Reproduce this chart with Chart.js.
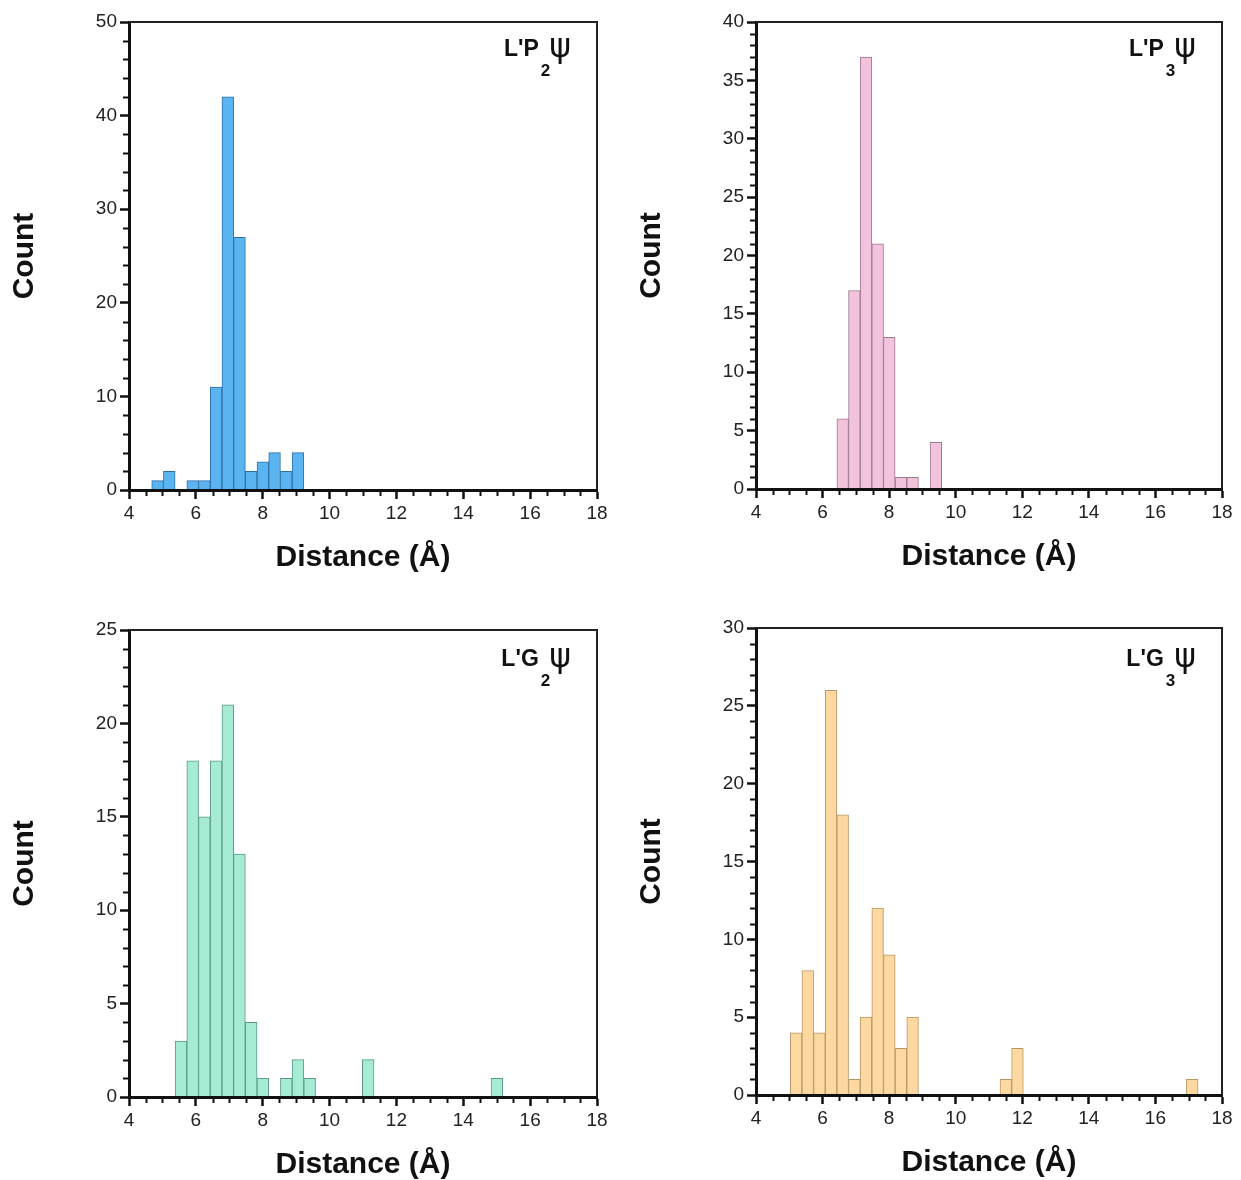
<!DOCTYPE html>
<html lang="en">
<head>
<meta charset="UTF-8">
<title>Distance histograms</title>
<script src="https://cdn.jsdelivr.net/npm/chart.js"></script>
<style>
  body { margin: 0; background: #fff; }
  .panel { position: absolute; }
</style>
</head>
<body>
<div class="panel" style="left:0;top:0"><canvas id="c1" width="620" height="600"></canvas></div>
<div class="panel" style="left:627px;top:0"><canvas id="c2" width="620" height="600"></canvas></div>
<div class="panel" style="left:0;top:608px"><canvas id="c3" width="620" height="600"></canvas></div>
<div class="panel" style="left:627px;top:606px"><canvas id="c4" width="620" height="600"></canvas></div>

<script>
// bin centres in Å (bins are 0.35 Å wide), only non-empty bins listed
const lp2Bins   = [4.855, 5.205, 5.905, 6.255, 6.605, 6.955, 7.305, 7.655, 8.005, 8.355, 8.705, 9.055];
const lp2Counts = [1, 2, 1, 1, 11, 42, 27, 2, 3, 4, 2, 4];

const lp3Bins   = [6.605, 6.955, 7.305, 7.655, 8.005, 8.355, 8.705, 9.405];
const lp3Counts = [6, 17, 37, 21, 13, 1, 1, 4];

const lg2Bins   = [5.555, 5.905, 6.255, 6.605, 6.955, 7.305, 7.655, 8.005, 8.705, 9.055, 9.405, 11.155, 15.005];
const lg2Counts = [3, 18, 15, 18, 21, 13, 4, 1, 1, 2, 1, 2, 1];

const lg3Bins   = [5.205, 5.555, 5.905, 6.255, 6.605, 6.955, 7.305, 7.655, 8.005, 8.355, 8.705, 11.505, 11.855, 17.105];
const lg3Counts = [4, 8, 4, 26, 18, 1, 5, 12, 9, 3, 5, 1, 3, 1];

// axis ranges
const xMin = 4, xMax = 18, xStep = 2, xMinor = 0.5;
const yMaxes  = [50, 40, 25, 30];
const ySteps  = [10, 5, 5, 5];
const yMinors = [2, 1, 1, 1];

const FONT = '"Liberation Sans", Arial, Helvetica, sans-serif';
const INK = '#111';

// short minor ticks, box frame and the panel label
const decor = {
    id: 'decor',
    afterDraw(chart, args, opts) {
        const ctx = chart.ctx;
        const xs = chart.scales.x, ys = chart.scales.y;
        const a = chart.chartArea;
        ctx.save();
        ctx.strokeStyle = INK;
        ctx.lineWidth = 2;
        ctx.beginPath();
        for (let v = xs.min; v <= xs.max + 1e-9; v += opts.xMinor) {
            const r = v / opts.xStep;
            if (Math.abs(r - Math.round(r)) < 1e-6) continue;
            const px = Math.round(xs.getPixelForValue(v)) + 0.5;
            ctx.moveTo(px, a.bottom);
            ctx.lineTo(px, a.bottom + 6);
        }
        for (let v = ys.min; v <= ys.max + 1e-9; v += opts.yMinor) {
            const r = v / opts.yStep;
            if (Math.abs(r - Math.round(r)) < 1e-6) continue;
            const py = Math.round(ys.getPixelForValue(v)) + 0.5;
            ctx.moveTo(a.left, py);
            ctx.lineTo(a.left - 6, py);
        }
        ctx.stroke();

        // top and right edges of the frame
        ctx.lineWidth = 2;
        ctx.strokeStyle = '#222';
        ctx.beginPath();
        ctx.moveTo(a.left, a.top);
        ctx.lineTo(a.right, a.top);
        ctx.lineTo(a.right, a.bottom);
        ctx.stroke();

        // label like L'P2ψ, right edge of ψ sits ~27px inside the frame
        const base = a.top + opts.labelDy;
        const mainFont = 'bold 23px ' + FONT;
        const subFont = 'bold 17px ' + FONT;
        const psiFont = '33px "DejaVu Sans", ' + FONT;
        ctx.font = mainFont; const wMain = ctx.measureText(opts.main).width;
        ctx.font = subFont;  const wSub = ctx.measureText(opts.sub).width;
        ctx.font = psiFont;  const wPsi = ctx.measureText('ψ').width;
        let x = a.right - 25 - (wMain + 2 + wSub + wPsi);
        ctx.fillStyle = INK;
        ctx.textAlign = 'left';
        ctx.textBaseline = 'alphabetic';
        ctx.font = mainFont;
        ctx.fillText(opts.main, x, base);
        x += wMain + 2;
        ctx.font = subFont;
        ctx.fillText(opts.sub, x, base + 20);
        x += wSub - 1;
        ctx.font = psiFont;
        ctx.fillText('ψ', x, base + 1);
        ctx.restore();
    }
};

function histogram(id, bins, counts, fill, edge, i, area, label) {
    const ctx = document.getElementById(id).getContext('2d');
    return new Chart(ctx, {
        type: 'bar',
        data: {
            datasets: [{
                data: bins.map((b, k) => ({ x: b, y: counts[k] })),
                backgroundColor: fill,
                borderColor: edge,
                borderWidth: 1,
                barPercentage: 1,
                categoryPercentage: 1
            }]
        },
        options: {
            responsive: false,
            animation: false,
            devicePixelRatio: 1,
            layout: { padding: { left: 0, top: 22, right: 620 - area.right, bottom: 600 - 86 - area.bottom } },
            plugins: {
                legend: { display: false },
                tooltip: { enabled: false },
                decor: { xMinor: xMinor, xStep: xStep, yMinor: yMinors[i], yStep: ySteps[i],
                         main: label[0], sub: label[1], labelDy: label[2] }
            },
            scales: {
                x: {
                    type: 'linear',
                    min: xMin, max: xMax,
                    offset: false,
                    afterFit: s => { s.height = 86; },
                    grid: { offset: false, drawOnChartArea: false, drawTicks: true, tickLength: 9, tickWidth: 2.5, tickColor: INK },
                    border: { display: true, width: 3, color: INK, z: 1 },
                    ticks: { stepSize: xStep, padding: 3, color: '#222', font: { family: FONT, size: 19 }, maxRotation: 0 },
                    title: { display: true, text: 'Distance (Å)', color: INK, padding: { top: 0, bottom: 0 },
                             font: { family: FONT, size: 30, weight: 'bold' } }
                },
                y: {
                    min: 0, max: yMaxes[i],
                    afterFit: s => { s.width = 129; },
                    grid: { drawOnChartArea: false, drawTicks: true, tickLength: 9, tickWidth: 2.5, tickColor: INK },
                    border: { display: true, width: 3, color: INK, z: 1 },
                    ticks: { stepSize: ySteps[i], padding: 3, color: '#222', font: { family: FONT, size: 19 } },
                    title: { display: true, text: 'Count', color: INK, padding: { top: 7, bottom: 0 },
                             font: { family: FONT, size: 30, weight: 'bold' } }
                }
            }
        },
        plugins: [decor]
    });
}

histogram('c1', lp2Bins, lp2Counts, '#5ab4f0', '#2f6fa8', 0, { right: 597, bottom: 490 }, ["L'P", '2', 34]);
histogram('c2', lp3Bins, lp3Counts, '#f3c3de', '#9a7b8c', 1, { right: 595, bottom: 489 }, ["L'P", '3', 34]);
histogram('c3', lg2Bins, lg2Counts, '#a6ebd3', '#5a9a84', 2, { right: 597, bottom: 489 }, ["L'G", '2', 36]);
histogram('c4', lg3Bins, lg3Counts, '#fdd9a1', '#b59766', 3, { right: 595, bottom: 489 }, ["L'G", '3', 38]);
</script>
</body>
</html>
